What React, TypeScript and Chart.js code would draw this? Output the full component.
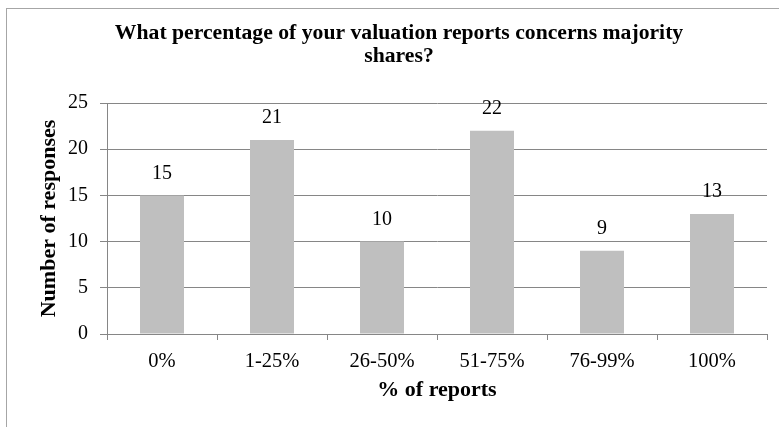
import React, { useEffect, useRef } from "react";
import { Chart, registerables } from "chart.js";

Chart.register(...registerables);

const titleLines = ["What percentage of your valuation reports concerns majority", "shares?"];
const categories = ["0%", "1-25%", "26-50%", "51-75%", "76-99%", "100%"];
const responses = [15, 21, 10, 22, 9, 13];
const yTitle = "Number of responses";
const xTitle = "% of reports";
const yMax = 25;
const yStep = 5;

const SERIF = "'Liberation Serif', 'Times New Roman', serif";

const framePlugin = {
  id: "frame",
  beforeDraw(chart: any) {
    const ctx = chart.ctx;
    ctx.save();
    ctx.fillStyle = "#ffffff";
    ctx.fillRect(0, 0, chart.width, chart.height);
    ctx.strokeStyle = "#a6a6a6";
    ctx.lineWidth = 1;
    ctx.strokeRect(6.5, 8.5, 1000, 1000);
    ctx.restore();
  },
};

const titlePlugin = {
  id: "titleText",
  afterDraw(chart: any) {
    const ctx = chart.ctx;
    ctx.save();
    ctx.fillStyle = "#000000";
    ctx.font = `bold 21.7px ${SERIF}`;
    ctx.textAlign = "center";
    ctx.textBaseline = "middle";
    titleLines.forEach((line, i) => {
      ctx.fillText(line, 399, 33.5 + i * 23);
    });
    ctx.restore();
  },
};

const labelPlugin = {
  id: "barLabels",
  afterDatasetsDraw(chart: any) {
    const ctx = chart.ctx;
    const meta = chart.getDatasetMeta(0);
    ctx.save();
    ctx.fillStyle = "#000000";
    ctx.font = `20px ${SERIF}`;
    ctx.textAlign = "center";
    ctx.textBaseline = "middle";
    meta.data.forEach((bar: any, i: number) => {
      ctx.fillText(String(responses[i]), bar.x, bar.y - 22);
    });
    ctx.restore();
  },
};

export default function App() {
  const ref = useRef<HTMLCanvasElement | null>(null);
  useEffect(() => {
    if (!ref.current) return;
    const chart = new Chart(ref.current, {
      type: "bar",
      data: {
        labels: categories,
        datasets: [
          {
            data: responses,
            backgroundColor: "#bfbfbf",
            borderWidth: 0,
            categoryPercentage: 1,
            barPercentage: 0.4,
          },
        ],
      },
      options: {
        animation: false,
        responsive: true,
        maintainAspectRatio: false,
        layout: { padding: { left: 0, right: 12, top: 103, bottom: 0 } },
        plugins: {
          legend: { display: false },
          tooltip: { enabled: false },
          title: { display: false },
        },
        scales: {
          x: {
            afterFit: (s: any) => {
              s.height = 93;
            },
            grid: {
              drawOnChartArea: false,
              drawTicks: true,
              tickLength: 6,
              color: "#868686",
            },
            border: { display: true, color: "#868686" },
            ticks: {
              color: "#000000",
              font: { family: SERIF, size: 20.5, lineHeight: 1.2 },
              padding: 9,
            },
            title: {
              display: true,
              text: xTitle,
              color: "#000000",
              font: { family: SERIF, size: 22, weight: "bold", lineHeight: 1.2 },
              padding: { top: 0, bottom: 23.5 },
            },
          },
          y: {
            min: 0,
            max: yMax,
            afterFit: (s: any) => {
              s.width = 107;
            },
            grid: {
              drawTicks: true,
              tickLength: 7,
              color: "#868686",
            },
            border: { display: true, color: "#868686" },
            ticks: {
              stepSize: yStep,
              color: "#000000",
              font: { family: SERIF, size: 20, lineHeight: 1.2 },
              padding: 12,
            },
            title: {
              display: true,
              text: yTitle,
              color: "#000000",
              font: { family: SERIF, size: 22, weight: "bold", lineHeight: 1.2 },
              padding: { top: 36, bottom: 0 },
            },
          },
        },
      },
      plugins: [framePlugin, labelPlugin, titlePlugin],
    });
    return () => chart.destroy();
  }, []);
  return (
    <div style={{ position: "absolute", left: 0, top: 0, width: 779, height: 427, background: "#fff" }}>
      <canvas ref={ref} />
    </div>
  );
}
